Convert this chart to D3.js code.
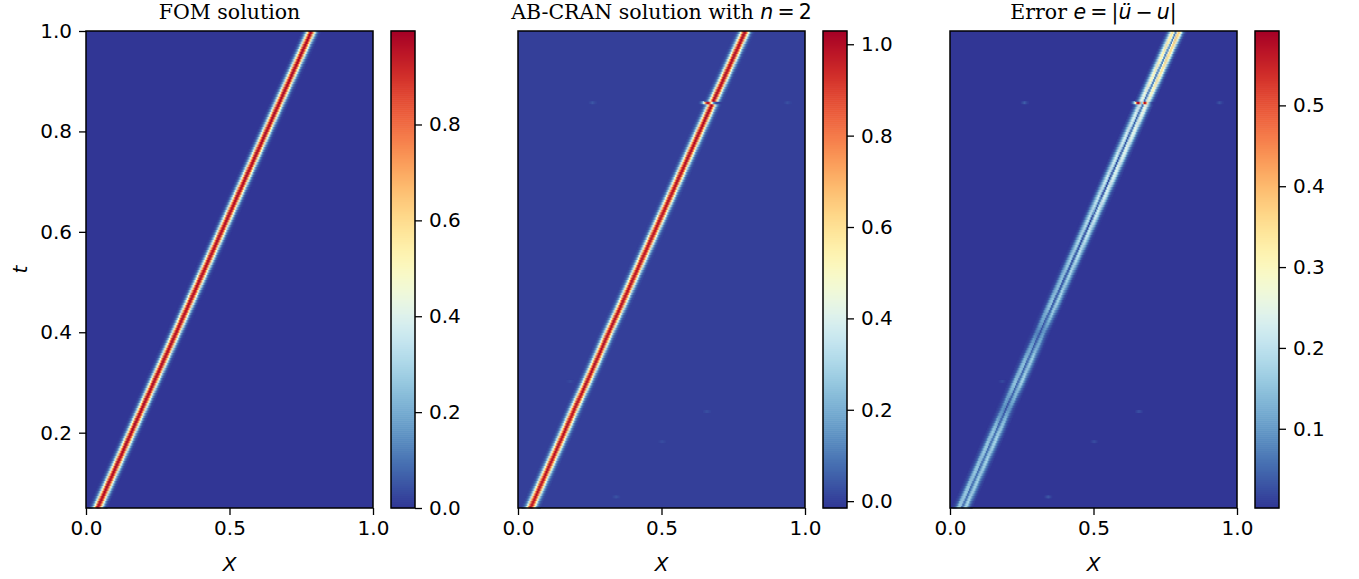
<!DOCTYPE html>
<html><head><meta charset="utf-8">
<script src="https://cdn.jsdelivr.net/npm/d3@7"></script>
<style>
body{margin:0;background:#fff}
svg text{font-family:"DejaVu Sans",sans-serif}
</style></head>
<body><svg id="chart" width="1359" height="579"></svg>
<script>
// ---------- data ----------
const xTicks=[0,0.5,1.0];
const tTicks=[0.2,0.4,0.6,0.8,1.0];
const tRange=[0.05,1.0];
// ridge (pulse centre) trajectory of the FOM solution
const centerT=[0.05,0.2,0.4,0.6,0.8,1.0];
const centerX=[0.040,0.157,0.314,0.471,0.628,0.785];
// cross-section of the pulse: distance from centre -> value
const profileD=[0,0.005,0.01,0.015,0.02,0.025,0.03,0.035];
const profileU=[1,0.893,0.636,0.361,0.163,0.059,0.017,0];
const fomPeak=0.995;
// AB-CRAN: small offset of the ridge from the FOM one, and peak height
const abShiftT=[0.05,0.1,0.2,0.25,0.3,0.35,0.4,0.45,0.5,0.55,0.6,0.7,0.8,0.85,0.9,1.0];
const abShift=[0.0032,0.0030,0.0031,0.0018,0.0030,0.0028,0.0017,0.0030,0.0029,0.0033,0.0036,0.0041,0.0044,0.0046,0.0058,0.0066];
const abPeakT=[0.05,0.4,0.8,1.0];
const abPeak=[1.0,1.01,1.02,1.029];
// glitch row of AB-CRAN near t = 0.856
const glitchT=[0.856];
const glitchShift=[-0.0115];
// faint spurious spots in the AB-CRAN field
const speckX=[0.26,0.94,0.66,0.50,0.34,0.18];
const speckT=[0.856,0.856,0.244,0.184,0.07,0.30];
const speckU=[0.04,0.03,0.03,0.025,0.035,0.02];
// colour ranges and colourbar ticks
const fomRange=[0,0.995];
const abRange=[-0.015,1.029];
const errRange=[0.002,0.592];
const fomCbTicks=[0,0.2,0.4,0.6,0.8];
const abCbTicks=[0,0.2,0.4,0.6,0.8,1.0];
const errCbTicks=[0.1,0.2,0.3,0.4,0.5];

// ---------- build fields ----------
const nx=256, nt=190;
const tStep=(tRange[1]-tRange[0])/nt;
const xCells=d3.range(nx).map(i=>(i+0.5)/nx);
const tCells=d3.range(nt).map(j=>tRange[0]+(j+0.5)*tStep);
const centerAt=d3.scaleLinear().domain(centerT).range(centerX);
const prof=d3.scaleLinear().domain(profileD).range(profileU).clamp(true);
const shiftAt=d3.scaleLinear().domain(abShiftT).range(abShift);
const peakAt=d3.scaleLinear().domain(abPeakT).range(abPeak);
const glitchRows=glitchT.map(t=>Math.floor((t-tRange[0])/tStep));

const fom=[],ab=[],err=[];
tCells.forEach((t,j)=>{
  const c=centerAt(t);
  let s=shiftAt(t);
  const g=glitchRows.indexOf(j);
  if(g>=0) s=glitchShift[g];
  const fr=[],ar=[];
  xCells.forEach(x=>{
    fr.push(fomPeak*prof(Math.abs(x-c)));
    ar.push(peakAt(t)*prof(Math.abs(x-c-s)));
  });
  fom.push(fr);ab.push(ar);
});
speckX.forEach((sx,k)=>{
  const r=Math.floor((speckT[k]-tRange[0])/tStep), c=Math.floor(sx*nx);
  for(let i=c-3;i<=c+3;i++){ if(i>=0&&i<nx&&r>=0&&r<nt) ab[r][i]+=speckU[k]*(1-Math.abs(i-c)/4); }
});
for(let j=0;j<nt;j++){ err.push(ab[j].map((v,i)=>Math.abs(v-fom[j][i]))); }

// ---------- drawing ----------
const svg=d3.select("#chart");
const W=287, yTop=31, yBot=508;
const cmap=t=>d3.interpolateRdYlBu(1-t);
const panels=[
 {x0:86,cb:391,range:fomRange,ticks:fomCbTicks,field:fom,showY:true,bg:0},
 {x0:518,cb:823,range:abRange,ticks:abCbTicks,field:ab,showY:false,bg:0},
 {x0:950,cb:1255,range:errRange,ticks:errCbTicks,field:err,showY:false,bg:0}
];
const tScale=d3.scaleLinear().domain(tRange).range([yBot,yTop]);

function styleAxis(g){
  g.select(".domain").remove();
  g.selectAll(".tick line").attr("stroke","#000").attr("stroke-width",1.3);
  g.selectAll(".tick text").attr("font-size",20).attr("font-family","DejaVu Sans").attr("fill","#000");
}

panels.forEach((p,pi)=>{
  const xs=d3.scaleLinear().domain([0,1]).range([p.x0,p.x0+W]);
  const col=d3.scaleSequential(cmap).domain(p.range).clamp(true);
  const g=svg.append("g");
  g.append("rect").attr("x",p.x0).attr("y",yTop).attr("width",W).attr("height",yBot-yTop).attr("fill",col(p.bg));
  const cells=[];
  p.field.forEach((row,j)=>row.forEach((v,i)=>{ if(Math.abs(v-p.bg)>0.004) cells.push({i,j,v}); }));
  g.selectAll("rect.c").data(cells).join("rect").attr("class","c")
    .attr("x",d=>xs(d.i/nx))
    .attr("width",d=>xs((d.i+1)/nx)-xs(d.i/nx)+0.4)
    .attr("y",d=>tScale(tRange[0]+(d.j+1)*tStep))
    .attr("height",d=>tScale(tRange[0]+d.j*tStep)-tScale(tRange[0]+(d.j+1)*tStep)+0.4)
    .attr("fill",d=>col(d.v));
  g.append("rect").attr("x",p.x0).attr("y",yTop).attr("width",W).attr("height",yBot-yTop)
    .attr("fill","none").attr("stroke","#000").attr("stroke-width",1.5);
  // x axis
  const xa=g.append("g").attr("transform",`translate(0,${yBot})`)
    .call(d3.axisBottom(xs).tickValues(xTicks).tickFormat(d3.format(".1f")).tickSize(7).tickPadding(6));
  styleAxis(xa);
  g.append("text").attr("x",p.x0+W/2).attr("y",571).attr("text-anchor","middle")
    .attr("font-size",20).attr("font-style","italic").text("X");
  if(p.showY){
    const ya=g.append("g").attr("transform",`translate(${p.x0},0)`)
      .call(d3.axisLeft(tScale).tickValues(tTicks).tickFormat(d3.format(".1f")).tickSize(7).tickPadding(7));
    styleAxis(ya);
    g.append("text").attr("transform",`translate(27,${(yTop+yBot)/2}) rotate(-90)`)
      .attr("text-anchor","middle").attr("font-size",20).attr("font-style","italic").text("t");
  }
  // colourbar
  const cbs=d3.scaleLinear().domain(p.range).range([yBot,yTop]);
  const nSteps=240;
  const steps=d3.range(nSteps).map(k=>p.range[0]+(k+0.5)*(p.range[1]-p.range[0])/nSteps);
  const sh=(yBot-yTop)/nSteps;
  g.selectAll("rect.cbs").data(steps).join("rect").attr("class","cbs")
    .attr("x",p.cb).attr("width",24)
    .attr("y",d=>cbs(d)-sh/2-0.3).attr("height",sh+0.6).attr("fill",d=>col(d));
  g.append("rect").attr("x",p.cb).attr("y",yTop).attr("width",24).attr("height",yBot-yTop)
    .attr("fill","none").attr("stroke","#000").attr("stroke-width",1.5);
  const ca=g.append("g").attr("transform",`translate(${p.cb+24},0)`)
    .call(d3.axisRight(cbs).tickValues(p.ticks).tickFormat(d3.format(".1f")).tickSize(7).tickPadding(7));
  styleAxis(ca);
});

// titles
const t1=svg.append("text").attr("x",86+W/2).attr("y",19).attr("text-anchor","middle").attr("font-size",20.5);
t1.append("tspan").attr("font-family","DejaVu Serif").text("FOM solution");
const t2=svg.append("text").attr("x",518+W/2).attr("y",19).attr("text-anchor","middle").attr("font-size",20.5);
t2.append("tspan").attr("font-family","DejaVu Serif").text("AB-CRAN solution with ");
t2.append("tspan").attr("font-family","DejaVu Sans").attr("font-style","italic").text("n");
t2.append("tspan").attr("font-family","DejaVu Sans").text("\u2009=\u20092");
const t3=svg.append("text").attr("x",950+W/2).attr("y",19).attr("text-anchor","middle").attr("font-size",20.5);
t3.append("tspan").attr("font-family","DejaVu Serif").text("Error ");
t3.append("tspan").attr("font-family","DejaVu Sans").attr("font-style","italic").text("e");
t3.append("tspan").attr("font-family","DejaVu Sans").text("\u2009=\u2009|");
t3.append("tspan").attr("font-family","DejaVu Sans").attr("font-style","italic").text("ü");
t3.append("tspan").attr("font-family","DejaVu Sans").text("\u2009−\u2009");
t3.append("tspan").attr("font-family","DejaVu Sans").attr("font-style","italic").text("u");
t3.append("tspan").attr("font-family","DejaVu Sans").text("|");
</script>
</body></html>
